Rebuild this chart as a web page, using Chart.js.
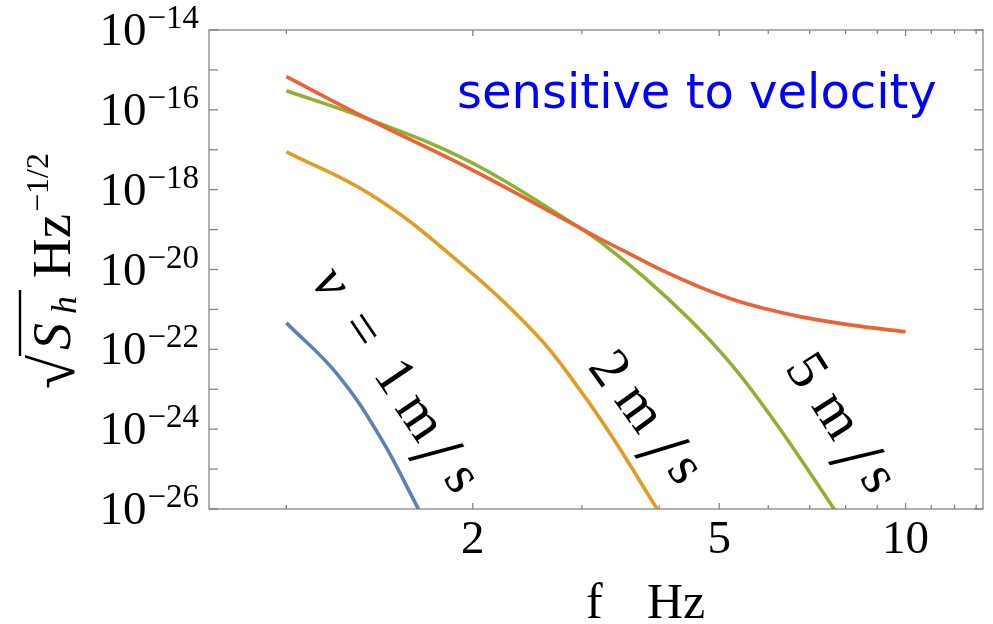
<!DOCTYPE html>
<html><head><meta charset="utf-8">
<script src="https://cdn.jsdelivr.net/npm/chart.js@4/dist/chart.umd.min.js"></script>
<style>html,body{margin:0;padding:0;background:#fff;}canvas{display:block;}</style>
</head><body>
<canvas id="c" width="993" height="624"></canvas>
<script>
// ---- data (f in Hz, sqrt(S_h) in Hz^-1/2) ----
const freqV1 = [1.0, 1.205, 1.416, 1.64];
const sqrtShV1 = [4.6e-22, 2.5e-23, 6.5e-25, 9.0e-27];
const freqV2 = [1.0, 1.364, 1.849, 2.536, 2.98, 3.37, 3.98];
const sqrtShV2 = [8.9e-18, 7.8e-19, 2.2e-20, 2.3e-22, 9.5e-24, 5.9e-25, 9.3e-27];
const freqV5 = [1.0, 1.354, 1.979, 2.98, 3.21, 3.80, 4.49, 5.21, 5.97, 6.67, 7.69];
const sqrtShV5 = [3.0e-16, 5.9e-17, 5.0e-18, 1.1e-19, 5.0e-20, 6.0e-21, 5.4e-22, 4.5e-23, 2.9e-24, 2.5e-25, 9.3e-27];
const freqVel = [1.0, 1.354, 1.98, 2.98, 3.21, 3.63, 4.12, 4.66, 5.26, 5.97, 6.75, 8.14, 10.0];
const sqrtShVel = [6.8e-16, 5.9e-17, 3.3e-18, 1.1e-19, 5.9e-20, 2.24e-20, 8.3e-21, 3.6e-21, 1.78e-21, 1.02e-21, 6.6e-22, 4.1e-22, 2.75e-22];

const xTickLabelValues = [2, 5, 10];
const xMinorTickValues = [1, 3, 4, 6, 7, 8, 9, 11, 12, 13];
const yTickExponents = [-26, -25, -24, -23, -22, -21, -20, -19, -18, -17, -16, -15, -14];
const yLabelExponents = [-14, -16, -18, -20, -22, -24, -26];
const annotationText = 'sensitive to velocity';
const xTitleVar = 'f', unitText = 'Hz', yExpText = '\u22121/2';

const colors = {v1: '#5E81B5', v2: '#E19C24', v5: '#8FB032', vel: '#EB6235'};

function pts(fs, vs) { return fs.map((f, i) => ({x: f, y: vs[i]})); }

const SERIF = '"Liberation Serif", "Times New Roman", serif';

function rotPieces(ctx, ax, ay, deg, pieces) {
  const t = deg * Math.PI / 180;
  ctx.save();
  ctx.translate(ax, ay);
  ctx.rotate(t);
  ctx.fillStyle = '#000';
  ctx.textAlign = 'center';
  ctx.textBaseline = 'alphabetic';
  pieces.forEach(p => { ctx.font = p.f; ctx.fillText(p.t, p.a, p.b); });
  ctx.restore();
}

const annot = {
  id: 'annot',
  afterDatasetsDraw(chart) {
    const {ctx, chartArea: a, scales: {x, y}} = chart;
    ctx.save();
    ctx.strokeStyle = '#7d7d7d';
    ctx.lineWidth = 1.2;
    ctx.strokeRect(a.left, a.top, a.right - a.left, a.bottom - a.top);
    const ln = (x1, y1, x2, y2) => { ctx.beginPath(); ctx.moveTo(x1, y1); ctx.lineTo(x2, y2); ctx.stroke(); };
    yTickExponents.forEach(e => {
      const py = y.getPixelForValue(Math.pow(10, e));
      ln(a.left, py, a.left + 9, py);
      ln(a.right, py, a.right - 9, py);
    });
    xTickLabelValues.forEach(v => {
      const px = x.getPixelForValue(v);
      ln(px, a.bottom, px, a.bottom - 6);
      ln(px, a.top, px, a.top + 6);
    });
    xMinorTickValues.forEach(v => {
      const px = x.getPixelForValue(v);
      ln(px, a.bottom, px, a.bottom - 4);
      ln(px, a.top, px, a.top + 4);
    });
    // y tick labels
    ctx.fillStyle = '#000';
    ctx.textBaseline = 'alphabetic';
    yLabelExponents.forEach(e => {
      const py = y.getPixelForValue(Math.pow(10, e));
      ctx.textAlign = 'right';
      ctx.font = '33px ' + SERIF;
      const ex = '\u2212' + Math.abs(e);
      ctx.fillText(ex, 199, py - 2);
      const w = ctx.measureText(ex).width;
      ctx.font = '47px ' + SERIF;
      ctx.fillText('10', 199 - w - 1, py + 15);
    });
    // x tick labels
    ctx.textAlign = 'center';
    ctx.font = '47px ' + SERIF;
    xTickLabelValues.forEach(v => {
      ctx.fillText(String(v), x.getPixelForValue(v), 553);
    });
    // x title
    ctx.textAlign = 'left';
    ctx.font = '50px ' + SERIF;
    ctx.fillText(xTitleVar, 586, 618);
    ctx.fillText(unitText, 647, 618);
    // y title (rotated)
    ctx.save();
    ctx.translate(70, 385);
    ctx.rotate(-Math.PI / 2);
    ctx.textAlign = 'left';
    ctx.font = '62px ' + SERIF;
    ctx.fillText('\u221A', -4, 4);
    ctx.strokeStyle = '#000';
    ctx.lineWidth = 2.4;
    ctx.beginPath(); ctx.moveTo(29, -50); ctx.lineTo(95, -50); ctx.stroke();
    ctx.font = 'italic 54px ' + SERIF;
    ctx.fillText('S', 35, 0);
    ctx.font = 'italic 36px ' + SERIF;
    ctx.fillText('h', 71, 6);
    ctx.font = '55px ' + SERIF;
    ctx.fillText(unitText, 107, 0);
    ctx.font = '32px ' + SERIF;
    ctx.fillText(yExpText, 173, -22);
    ctx.restore();
    // annotation
    ctx.fillStyle = '#0000FF';
    ctx.font = '48px "DejaVu Sans", sans-serif';
    ctx.textAlign = 'left';
    ctx.fillText(annotationText, 457, 108);
    // curve labels
    const F = '57px ' + SERIF, FI = 'italic 57px ' + SERIF, FS = '80px ' + SERIF;
    rotPieces(ctx, 328, 285, 56, [
      {t: 'v', f: FI, a: 0, b: 13},
      {t: '=', f: F, a: 56, b: 14},
      {t: '1', f: F, a: 113, b: 13},
      {t: 'm', f: F, a: 161, b: 14},
      {t: '/', f: FS, a: 199, b: 30},
      {t: 's', f: F, a: 235, b: 13}
    ]);
    rotPieces(ctx, 610, 368, 54.2, [
      {t: '2', f: F, a: 0, b: 18},
      {t: 'm', f: F, a: 50, b: 16},
      {t: '/', f: FS, a: 96, b: 31},
      {t: 's', f: F, a: 126, b: 14}
    ]);
    rotPieces(ctx, 807, 370, 57.5, [
      {t: '5', f: F, a: 0, b: 18},
      {t: 'm', f: F, a: 54, b: 16},
      {t: '/', f: FS, a: 100, b: 31},
      {t: 's', f: F, a: 130, b: 14}
    ]);
    ctx.restore();
  }
};

new Chart(document.getElementById('c'), {
  type: 'line',
  data: {
    datasets: [
      {label: 'velocity', data: pts(freqVel, sqrtShVel), borderColor: colors.vel},
      {label: 'v = 5 m/s', data: pts(freqV5, sqrtShV5), borderColor: colors.v5},
      {label: 'v = 2 m/s', data: pts(freqV2, sqrtShV2), borderColor: colors.v2},
      {label: 'v = 1 m/s', data: pts(freqV1, sqrtShV1), borderColor: colors.v1}
    ]
  },
  options: {
    responsive: false,
    animation: false,
    devicePixelRatio: 1,
    layout: {padding: {top: 30, right: 10, left: 0, bottom: 0}},
    datasets: {line: {clip: 0}},
    elements: {
      point: {radius: 0},
      line: {borderWidth: 3.6, cubicInterpolationMode: 'default', tension: 0.4, fill: false, capStyle: 'round'}
    },
    plugins: {legend: {display: false}, tooltip: {enabled: false}},
    scales: {
      x: {
        type: 'logarithmic', bounds: 'data',
        min: Math.pow(10, -0.125), max: Math.pow(10, 1.125),
        ticks: {display: false}, grid: {display: false}, border: {display: false},
        afterFit(s) { s.height = 115; }
      },
      y: {
        type: 'logarithmic', bounds: 'data',
        min: 1e-26, max: 1e-14,
        ticks: {display: false}, grid: {display: false}, border: {display: false},
        afterFit(s) { s.width = 209; }
      }
    }
  },
  plugins: [annot]
});
</script>
</body></html>
